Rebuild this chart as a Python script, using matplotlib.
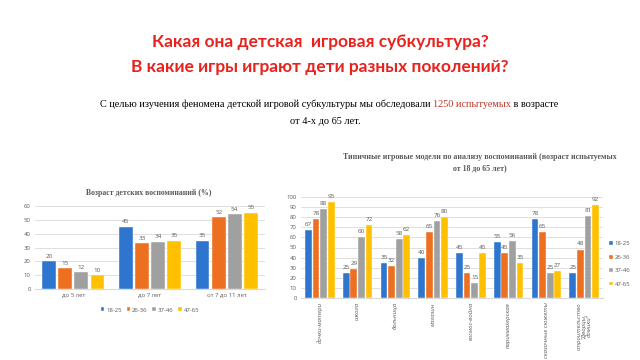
import numpy as np
import matplotlib
matplotlib.use("Agg")
import matplotlib.pyplot as plt

# data
series = ["18-25", "26-36", "37-46", "47-65"]
colors = ["#2E75D0", "#ED7020", "#A0A0A0", "#FFC000"]

ageGroups = ["до 5 лет", "до 7 лет", "от 7 до 11 лет"]
ageValues = [[20, 45, 35],
             [15, 33, 52],
             [12, 34, 54],
             [10, 35, 55]]

games = ["дочки-матери", "школа", "больница", "магазин", "космос-война",
         "парикмахерская", "сказочные сюжеты", "строительство\n\"Дворцы,\nдомики\""]
gameValues = [[67, 25, 35, 40, 45, 55, 78, 25],
              [78, 29, 32, 65, 25, 45, 65, 48],
              [88, 60, 58, 76, 15, 56, 25, 81],
              [95, 72, 62, 80, 45, 35, 27, 92]]

grid = "#D9D9D9"
tickColor = "#595959"
serif = "Liberation Serif"

fig = plt.figure(figsize=(6.4, 3.6), dpi=100)
fig.patch.set_facecolor("white")

fig.text(0.5, 1 - 42 / 360, "Какая она детская  игровая субкультура?",
         ha="center", va="center", color="#E8231E", fontsize=12.5,
         fontweight="bold", family="Lato")
fig.text(0.5, 1 - 67 / 360, "В какие игры играют дети разных поколений?",
         ha="center", va="center", color="#E8231E", fontsize=12.5,
         fontweight="bold", family="Lato")


def barChart(ax, labels, values, step, width):
    x = np.arange(len(labels))
    for i in range(len(series)):
        pos = x + (i - 1.5) * step
        bars = ax.bar(pos, values[i], width, color=colors[i], label=series[i],
                      edgecolor="white", linewidth=0.3, zorder=3)
        for b, v in zip(bars, values[i]):
            ax.text(b.get_x() + b.get_width() / 2, v + ax.get_ylim()[1] * 0.03, str(v),
                    ha="center", va="bottom", fontsize=4.5, color=tickColor,
                    family="Open Sans", clip_on=False)
    ax.set_xlim(-0.5, len(labels) - 0.5)
    ax.set_xticks(x)
    ax.yaxis.grid(True, color=grid, linewidth=0.6, zorder=0)
    for s in ax.spines.values():
        s.set_visible(False)
    ax.spines["bottom"].set_visible(True)
    ax.spines["bottom"].set_color(grid)
    ax.tick_params(length=0, labelsize=4.3, colors=tickColor, pad=3)
    for lab in ax.get_xticklabels() + ax.get_yticklabels():
        lab.set_family("Open Sans")


# left chart
ax1 = fig.add_axes([35 / 640, 1 - 289 / 360, 230 / 640, 83 / 360])
ax1.set_ylim(0, 60)
ax1.set_yticks(range(0, 61, 10))
barChart(ax1, ageGroups, ageValues, 0.21, 0.18)
ax1.set_xticklabels(ageGroups)
fig.text(149 / 640, 1 - 193 / 360, "Возраст детских воспоминаний (%)", ha="center",
         va="center", fontsize=5.6, fontweight="bold", family=serif, color=tickColor)
h, l = ax1.get_legend_handles_labels()
fig.legend(h, l, loc="center", bbox_to_anchor=(150 / 640, 1 - 310 / 360), ncol=4,
           frameon=False, handlelength=0.6, handleheight=0.6,
           handletextpad=0.3, columnspacing=0.8, labelcolor=tickColor,
           prop={"family": "Open Sans", "size": 4.3})

# right chart
ax2 = fig.add_axes([301 / 640, 1 - 298 / 360, 302 / 640, 101 / 360])
ax2.set_ylim(0, 100)
ax2.set_yticks(range(0, 101, 10))
barChart(ax2, games, gameValues, 0.2, 0.18)
ax2.set_xticklabels(games, rotation=90, va="top", ha="center", style="italic",
                    linespacing=1.0)
fig.text(480 / 640, 1 - 163 / 360,
         "Типичные игровые модели по анализу воспоминаний (возраст испытуемых\nот 18 до 65 лет)",
         ha="center", va="center", fontsize=5.7, fontweight="bold", family=serif,
         color=tickColor, linespacing=1.5)
h, l = ax2.get_legend_handles_labels()
fig.legend(h, l, loc="center left", bbox_to_anchor=(604 / 640, 1 - 264 / 360), ncol=1,
           frameon=False, handlelength=0.6, handleheight=0.6,
           handletextpad=0.3, labelspacing=1.4, labelcolor=tickColor,
           prop={"family": "Open Sans", "size": 4.3})

# subtitle with the red part in the middle
t1 = fig.text(100 / 640, 1 - 104 / 360,
              "С целью изучения феномена детской игровой субкультуры мы обследовали ",
              ha="left", va="center", fontsize=7.4, family=serif, color="black")
t2 = ax1.annotate("1250 испытуемых", xy=(1, 0), xycoords=t1, va="bottom",
                  fontsize=7.4, family=serif, color="#C0392B", annotation_clip=False)
t3 = ax1.annotate(" в возрасте", xy=(1, 0), xycoords=t2, va="bottom",
                  fontsize=7.4, family=serif, color="black", annotation_clip=False)
fig.text(325 / 640, 1 - 122 / 360, "от 4-х до 65 лет.", ha="center", va="center",
         fontsize=7.4, family=serif, color="black")

fig.savefig("out.png", dpi=100)
